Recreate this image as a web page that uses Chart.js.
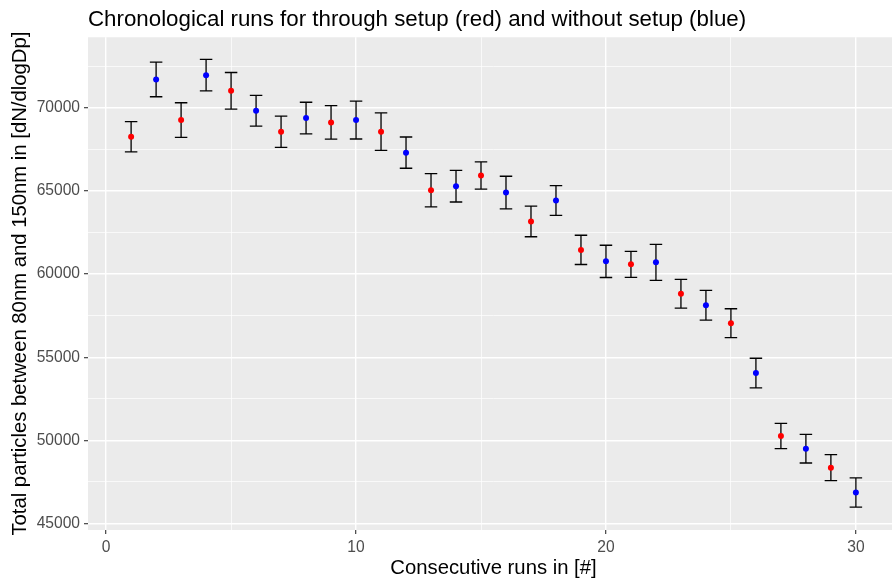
<!DOCTYPE html>
<html>
<head>
<meta charset="utf-8">
<script src="https://cdn.jsdelivr.net/npm/chart.js@4.4.1/dist/chart.umd.min.js"></script>
<style>
html, body { margin: 0; padding: 0; background: #fff; overflow: hidden; }
#wrap { position: relative; width: 903px; height: 581px; }
</style>
</head>
<body>
<div id="wrap"><canvas id="runchart"></canvas></div>
<script>
// run number, mean particle count and error (+/-) per run
const runs = [1, 2, 3, 4, 5, 6, 7, 8, 9, 10, 11, 12, 13, 14, 15, 16, 17, 18, 19, 20, 21, 22, 23, 24, 25, 26, 27, 28, 29, 30];
const particles = [68270, 71710, 69270, 71970, 71030, 69830, 68570, 69390, 69130, 69270,
                   68570, 67310, 65050, 65290, 65930, 64910, 63170, 64430, 61460, 60770,
                   60590, 60710, 58820, 58130, 57050, 54050, 50260, 49500, 48360, 46860];
const errors = [910, 1040, 1040, 950, 1100, 920, 940, 950, 1010, 1140,
                1130, 940, 1000, 950, 820, 980, 920, 890, 880, 970,
                780, 1080, 860, 890, 870, 890, 760, 860, 780, 880];
const setup = ['through', 'without', 'through', 'without', 'through', 'without', 'through', 'without', 'through', 'without',
               'through', 'without', 'through', 'without', 'through', 'without', 'through', 'without', 'through', 'without',
               'through', 'without', 'through', 'without', 'through', 'without', 'through', 'without', 'through', 'without'];
const xTicks = [0, 5, 10, 15, 20, 25, 30];
const yTicks = [45000, 47500, 50000, 52500, 55000, 57500, 60000, 62500, 65000, 67500, 70000, 72500];

const setupColor = { through: '#FF0000', without: '#0000FF' };
const capWidth = 0.5;
const fontFam = '"Liberation Sans", Arial, sans-serif';

const panelBg = {
    id: 'panelBg',
    beforeDraw(chart) {
        const a = chart.chartArea;
        const ctx = chart.ctx;
        ctx.save();
        ctx.fillStyle = '#EBEBEB';
        ctx.fillRect(a.left, a.top, a.right - a.left, a.bottom - a.top);
        ctx.restore();
    }
};

const errorBars = {
    id: 'errorBars',
    beforeDatasetsDraw(chart) {
        const ctx = chart.ctx;
        const x = chart.scales.x;
        const y = chart.scales.y;
        ctx.save();
        ctx.strokeStyle = '#000000';
        ctx.lineWidth = 1.3;
        runs.forEach((r, i) => {
            const px = x.getPixelForValue(r);
            const l = x.getPixelForValue(r - capWidth / 2);
            const rr = x.getPixelForValue(r + capWidth / 2);
            const top = y.getPixelForValue(particles[i] + errors[i]);
            const bot = y.getPixelForValue(particles[i] - errors[i]);
            ctx.beginPath();
            ctx.moveTo(px, top); ctx.lineTo(px, bot);
            ctx.moveTo(l, top); ctx.lineTo(rr, top);
            ctx.moveTo(l, bot); ctx.lineTo(rr, bot);
            ctx.stroke();
        });
        ctx.restore();
    }
};

const isMajorY = v => v % 5000 === 0;
const isMajorX = v => v % 10 === 0;

const data = {
    datasets: [{
        label: 'Runs',
        data: runs.map((r, i) => ({ x: r, y: particles[i] })),
        pointBackgroundColor: setup.map(s => setupColor[s]),
        pointBorderWidth: 0,
        pointRadius: 3,
        showLine: false
    }]
};

const config = {
    type: 'scatter',
    data: data,
    options: {
        responsive: true,
        maintainAspectRatio: false,
        animation: false,
        layout: { padding: { left: 0, right: 0, top: 0, bottom: 0 } },
        plugins: {
            legend: { display: false },
            tooltip: { enabled: false },
            title: {
                display: true,
                text: 'Chronological runs for through setup (red) and without setup (blue)',
                align: 'start',
                fullSize: false,
                color: '#000000',
                font: { size: 22.3, family: fontFam, weight: 'normal' },
                padding: { top: 6, bottom: 4.5 }
            }
        },
        scales: {
            x: {
                type: 'linear',
                min: -0.725,
                max: 31.725,
                afterBuildTicks: scale => { scale.ticks = xTicks.map(v => ({ value: v })); },
                afterFit: scale => { scale.height = 51; },
                border: { display: false },
                grid: {
                    color: '#FFFFFF',
                    lineWidth: c => isMajorX(c.tick.value) ? 1.4 : 0.7,
                    tickColor: c => isMajorX(c.tick.value) ? '#333333' : 'rgba(0,0,0,0)',
                    tickLength: 4,
                    tickWidth: 1.1
                },
                ticks: {
                    autoSkip: false,
                    maxRotation: 0,
                    padding: 4,
                    color: '#4D4D4D',
                    font: { size: 15.6, family: fontFam },
                    callback: v => isMajorX(v) ? String(v) : ''
                },
                title: {
                    display: true,
                    text: 'Consecutive runs in [#]',
                    color: '#000000',
                    font: { size: 20.3, family: fontFam },
                    padding: { top: 0, bottom: 0.8 }
                }
            },
            y: {
                type: 'linear',
                min: 44610,
                max: 74250,
                afterBuildTicks: scale => { scale.ticks = yTicks.map(v => ({ value: v })); },
                afterFit: scale => { scale.width = 88; },
                border: { display: false },
                grid: {
                    color: '#FFFFFF',
                    lineWidth: c => isMajorY(c.tick.value) ? 1.4 : 0.7,
                    tickColor: c => isMajorY(c.tick.value) ? '#333333' : 'rgba(0,0,0,0)',
                    tickLength: 4,
                    tickWidth: 1.1
                },
                ticks: {
                    autoSkip: false,
                    padding: 4,
                    color: '#4D4D4D',
                    font: { size: 15.6, family: fontFam },
                    callback: v => isMajorY(v) ? String(v) : ''
                },
                title: {
                    display: true,
                    text: 'Total particles between 80nm and 150nm in [dN/dlogDp]',
                    color: '#000000',
                    font: { size: 20.3, family: fontFam },
                    padding: { top: 7.8, bottom: 0 }
                }
            }
        }
    },
    plugins: [panelBg, errorBars]
};

const ctx = document.getElementById('runchart').getContext('2d');
const chart = new Chart(ctx, config);
</script>
</body>
</html>
